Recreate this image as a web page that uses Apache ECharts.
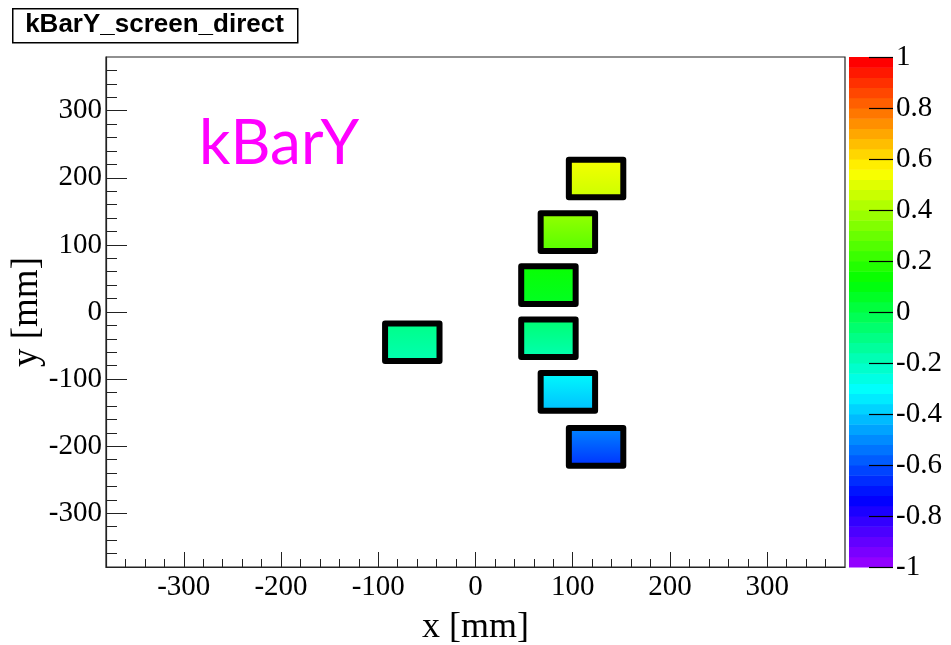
<!DOCTYPE html>
<html>
<head>
<meta charset="utf-8">
<script src="https://cdn.jsdelivr.net/npm/echarts@6/dist/echarts.min.js"></script>
<style>
html, body { margin: 0; padding: 0; background: #fff; }
#chart { width: 951px; height: 645px; }
</style>
</head>
<body>
<div id="chart"></div>
<script>
// box centres in mm
var boxX = [124, 95, 75, 75, 95, 124, -65];
var boxY = [199, 119, 40, -39, -119, -201, -45];
// colour value at the top and the bottom edge of each box
var valTop = [0.54, 0.36, 0.12, -0.05, -0.32, -0.52, -0.10];
var valBot = [0.46, 0.26, 0.06, -0.18, -0.44, -0.66, -0.18];
var boxHalf = 28;

var axisTicks = [-300, -200, -100, 0, 100, 200, 300];
var zTicks = [-1, -0.8, -0.6, -0.4, -0.2, 0, 0.2, 0.4, 0.6, 0.8, 1];

// minor ticks every 20 mm
var minorTicks = [];
for (var m = -360; m <= 360; m += 20) {
    if (m % 100 !== 0) minorTicks.push(m);
}

// ROOT "pretty" palette: 50 steps violet -> red
function hslToRgb(h, s, l) {
    h = h / 360;
    function f(p, q, t) {
        if (t < 0) t += 1;
        if (t > 1) t -= 1;
        if (t < 1 / 6) return p + (q - p) * 6 * t;
        if (t < 1 / 2) return q;
        if (t < 2 / 3) return p + (q - p) * (2 / 3 - t) * 6;
        return p;
    }
    var q = l < 0.5 ? l * (1 + s) : l + s - l * s;
    var p = 2 * l - q;
    return 'rgb(' + Math.round(f(p, q, h + 1 / 3) * 255) + ',' +
        Math.round(f(p, q, h) * 255) + ',' + Math.round(f(p, q, h - 1 / 3) * 255) + ')';
}
function palIndex(v) {
    var i = Math.floor((v + 1) / 2 * 50);
    return Math.max(0, Math.min(49, i));
}
function palColor(i) {
    return hslToRgb(280 - (i + 1) * 5.6, 1, 0.5);
}

var bands = [];
for (var b = 0; b < 50; b++) bands.push([-1 + b * 0.04, -1 + (b + 1) * 0.04, b]);

var serif = '"Liberation Serif", "Times New Roman", serif';

var myChart = echarts.init(document.getElementById('chart'));
var option = {
    animation: false,
    backgroundColor: '#fff',
    grid: [
        { left: 106, top: 57, width: 739, height: 510, outerBoundsMode: 'none', containLabel: false,
          show: true, borderColor: '#222', borderWidth: 1.2, backgroundColor: 'transparent' },
        { left: 849, top: 57, width: 44, height: 510, outerBoundsMode: 'none', containLabel: false }
    ],
    xAxis: [
        {
            gridIndex: 0, type: 'value', min: -380, max: 380,
            name: 'x [mm]', nameLocation: 'middle', nameGap: 43,
            nameTextStyle: { fontFamily: serif, fontSize: 36, color: '#000' },
            axisLine: { show: true, onZero: false, lineStyle: { color: '#222', width: 1.2 } },
            axisTick: { show: true, inside: true, length: 15, customValues: axisTicks, lineStyle: { color: '#222' } },
            axisLabel: { customValues: axisTicks, fontFamily: serif, fontSize: 29, color: '#000', margin: 6 },
            splitLine: { show: false }
        },
        {
            gridIndex: 0, type: 'value', min: -380, max: 380, position: 'bottom',
            axisLine: { show: false, onZero: false },
            axisTick: { show: true, inside: true, length: 8, customValues: minorTicks, lineStyle: { color: '#222' } },
            axisLabel: { show: false },
            splitLine: { show: false }
        },
        { gridIndex: 1, type: 'value', min: 0, max: 1, show: false, axisLine: { onZero: false } }
    ],
    yAxis: [
        {
            gridIndex: 0, type: 'value', min: -380, max: 380,
            name: 'y [mm]', nameLocation: 'middle', nameGap: 60, nameMoveOverlap: false,
            nameTextStyle: { fontFamily: serif, fontSize: 37, color: '#000' },
            axisLine: { show: true, onZero: false, lineStyle: { color: '#222', width: 1.2 } },
            axisTick: { show: true, inside: true, length: 21, customValues: axisTicks, lineStyle: { color: '#222' } },
            axisLabel: { customValues: axisTicks, fontFamily: serif, fontSize: 29, color: '#000', margin: 4 },
            splitLine: { show: false }
        },
        {
            gridIndex: 0, type: 'value', min: -380, max: 380, position: 'left',
            axisLine: { show: false, onZero: false },
            axisTick: { show: true, inside: true, length: 11, customValues: minorTicks, lineStyle: { color: '#222' } },
            axisLabel: { show: false },
            splitLine: { show: false }
        },
        {
            gridIndex: 1, type: 'value', min: -1, max: 1, position: 'right', z: 10,
            axisLine: { show: false, onZero: false },
            axisTick: { show: true, inside: true, length: 24, customValues: zTicks, lineStyle: { color: '#000', width: 1.2 } },
            axisLabel: { customValues: zTicks, fontFamily: serif, fontSize: 29, color: '#000', margin: 3 },
            splitLine: { show: false }
        }
    ],
    series: [
        {
            // colour bar
            type: 'custom', xAxisIndex: 2, yAxisIndex: 2, z: 1,
            data: bands,
            renderItem: function (params, api) {
                var p0 = api.coord([0, api.value(1)]);
                var p1 = api.coord([1, api.value(0)]);
                return {
                    type: 'rect',
                    shape: { x: p0[0], y: p0[1], width: p1[0] - p0[0], height: p1[1] - p0[1] + 0.5 },
                    style: { fill: palColor(api.value(2)) }
                };
            }
        },
        {
            type: 'custom', xAxisIndex: 0, yAxisIndex: 0, z: 3,
            data: boxX.map(function (x, i) { return [x, boxY[i], valTop[i], valBot[i]]; }),
            renderItem: function (params, api) {
                var x = api.value(0), y = api.value(1);
                var p0 = api.coord([x - boxHalf, y + boxHalf]);
                var p1 = api.coord([x + boxHalf, y - boxHalf]);
                return {
                    type: 'rect',
                    shape: { x: p0[0], y: p0[1], width: p1[0] - p0[0], height: p1[1] - p0[1] },
                    style: {
                        fill: new echarts.graphic.LinearGradient(0, 0, 0, 1, [
                            { offset: 0, color: palColor(palIndex(api.value(2))) },
                            { offset: 1, color: palColor(palIndex(api.value(3))) }
                        ]),
                        stroke: '#000', lineWidth: 6, lineJoin: 'round'
                    }
                };
            }
        }
    ],
    graphic: [
        {
            type: 'rect', left: 12, top: 8, z: 10,
            shape: { width: 285, height: 34 },
            style: { fill: '#fff', stroke: '#000', lineWidth: 1.5 }
        },
        {
            type: 'text', x: 154.5, y: 25, z: 11,
            style: { text: 'kBarY_screen_direct', font: 'bold 26px "Liberation Sans", Arial, sans-serif', fill: '#000', align: 'center', verticalAlign: 'middle' }
        },
        {
            type: 'text', x: 199, y: 144, z: 11,
            style: { text: 'kBarY', font: '62px Lato, "DejaVu Sans", sans-serif', fill: '#ff00ff', align: 'left', verticalAlign: 'middle' }
        }
    ]
};
myChart.setOption(option);
</script>
</body>
</html>
